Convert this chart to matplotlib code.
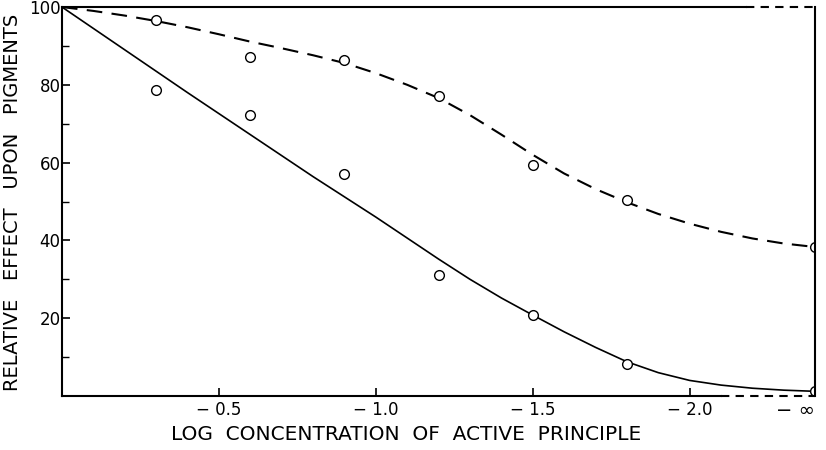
import matplotlib.pyplot as plt
import numpy as np

# observed points (log concentration, relative effect); -inf is plotted at x = -2.4
x_obs = [-0.3, -0.6, -0.9, -1.2, -1.5, -1.8, -2.4]
upper_obs = [96.7, 87.2, 86.4, 77.0, 59.3, 50.3, 38.3]
lower_obs = [78.7, 72.3, 57.2, 31.0, 20.8, 8.2, 1.3]

# freehand curves through the points
x_curve = [0.0, -0.1, -0.2, -0.3, -0.4, -0.5, -0.6, -0.7, -0.8, -0.9, -1.0, -1.1, -1.2,
           -1.3, -1.4, -1.5, -1.6, -1.7, -1.8, -1.9, -2.0, -2.1, -2.2, -2.3, -2.4]
upper_curve = [100.0, 99.0, 97.8, 96.4, 94.8, 93.0, 91.1, 89.4, 87.6, 85.6, 83.0, 80.0, 76.6,
               72.2, 67.2, 62.0, 57.2, 53.2, 49.8, 46.8, 44.3, 42.2, 40.5, 39.2, 38.3]
lower_curve = [100.0, 94.5, 89.0, 83.5, 78.0, 72.6, 67.2, 61.8, 56.4, 51.2, 46.0, 40.6, 35.2,
               30.0, 25.2, 20.8, 16.5, 12.5, 8.8, 6.0, 4.0, 2.8, 2.0, 1.5, 1.2]

x_ticks = [-0.5, -1.0, -1.5, -2.0, -2.4]
x_labels = ["\u2212 0.5", "\u2212 1.0", "\u2212 1.5", "\u2212 2.0", "\u2212 \u221e"]
y_ticks = [20, 40, 60, 80, 100]

plt.rcParams["font.family"] = ["DejaVu Sans"]

fig = plt.figure(figsize=(8.26, 4.5), dpi=100)
ax = fig.add_axes([0.075, 0.12, 0.912, 0.8644])

ax.plot(x_curve, lower_curve, color="black", lw=1.2, solid_capstyle="round")
ax.plot(x_curve, upper_curve, color="black", lw=1.5, dashes=(7.5, 4.5))
ax.plot(x_obs, upper_obs, "o", mfc="white", mec="black", ms=7, mew=1.0)
ax.plot(x_obs, lower_obs, "o", mfc="white", mec="black", ms=7, mew=1.0)

ax.set_xlim(0, -2.4)
ax.set_ylim(0, 100)

# broken frame towards -inf
ax.spines["bottom"].set_bounds(0, -2.1)
ax.spines["top"].set_bounds(0, -2.18)
for sp in ax.spines.values():
    sp.set_linewidth(1.5)
trans = ax.get_xaxis_transform()
ax.plot([-2.1, -2.4], [0, 0], transform=trans, color="black", lw=1.5,
        dashes=(4, 3), clip_on=False)
ax.plot([-2.18, -2.4], [1, 1], transform=trans, color="black", lw=1.5,
        dashes=(4, 3), clip_on=False)

ax.set_xticks(x_ticks)
ax.set_xticklabels(x_labels, fontsize=12)
ax.set_yticks(y_ticks)
ax.set_yticklabels([str(v) for v in y_ticks], fontsize=12)
ax.set_yticks([10, 30, 50, 70, 90], minor=True)
ax.tick_params(axis="both", which="major", direction="in", length=6, width=1.2)
ax.tick_params(axis="y", which="major", pad=1)
ax.tick_params(axis="y", which="minor", direction="in", length=5, width=1.0)
ax.xaxis.get_major_ticks()[-1].tick1line.set_visible(False)
inf_label = ax.get_xticklabels()[-1]
inf_label.set_horizontalalignment("right")
inf_label.set_fontsize(14)

ax.set_xlabel("LOG  CONCENTRATION  OF  ACTIVE  PRINCIPLE", fontsize=14.5)
ax.xaxis.set_label_coords(0.457, -0.075)
ax.set_ylabel("RELATIVE   EFFECT   UPON   PIGMENTS", fontsize=14)
ax.yaxis.set_label_coords(-0.053, 0.497)

fig.savefig("out.png", dpi=100)
